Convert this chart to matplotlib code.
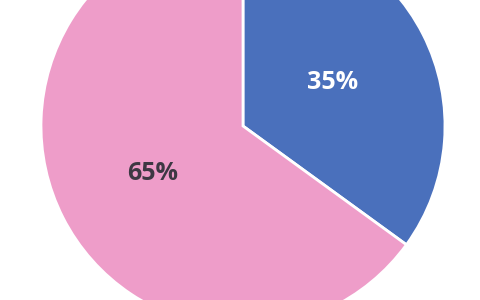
import matplotlib.pyplot as plt

# share of the two groups, in percent
labels = ["A", "B"]
values = [35, 65]
colors = ["#4A70BC", "#EE9DC9"]
text_colors = ["white", "#3D3843"]

fig = plt.figure(figsize=(4.8, 3.0), dpi=100)
ax = fig.add_axes([0, 0, 1, 1])

wedges, texts, autotexts = ax.pie(
    values,
    colors=colors,
    startangle=90,
    counterclock=False,
    center=(243, 174),
    radius=202,
    autopct="%d%%",
    pctdistance=0.5,
    wedgeprops=dict(edgecolor="white", linewidth=2),
    textprops=dict(fontsize=18, fontweight="bold", family="Open Sans"),
)
for t, c in zip(autotexts, text_colors):
    t.set_color(c)
    x, y = t.get_position()
    t.set_position((x, y - 2))  # nudge down a bit

ax.set_xlim(0, 480)
ax.set_ylim(0, 300)
ax.set_aspect("equal")
ax.axis("off")

fig.savefig("out.png", dpi=100)
